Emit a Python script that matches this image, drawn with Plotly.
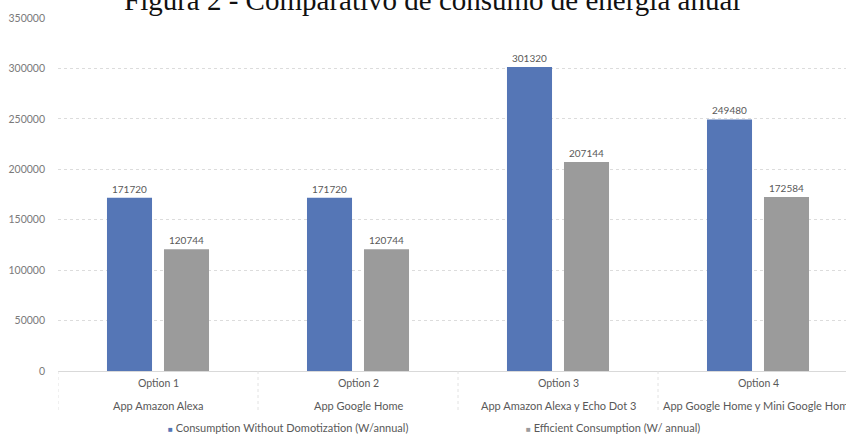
import plotly.graph_objects as go

# Chart data
options = ["Option 1", "Option 2", "Option 3", "Option 4"]
apps = ["App Amazon Alexa", "App Google Home", "App Amazon Alexa y Echo Dot 3",
        "App Google Home y Mini Google Home"]
without_domotization = [171720, 171720, 301320, 249480]
efficient = [120744, 120744, 207144, 172584]
series_names = ["Consumption Without Domotization (W/annual)",
                "Efficient Consumption (W/ annual)"]
y_ticks = [0, 50000, 100000, 150000, 200000, 250000, 300000, 350000]

BLUE = "#5576b6"
GRAY = "#9b9b9b"
FONT = "Lato"
LABEL = "#595959"
colors = [BLUE, GRAY]

fig = go.Figure()
for vals, name, color in zip([without_domotization, efficient], series_names, colors):
    fig.add_trace(go.Bar(
        x=options, y=vals, name=name, showlegend=False,
        marker=dict(color=color, line=dict(width=0)),
        text=[str(v) for v in vals], textposition="outside",
        textfont=dict(family=FONT, size=10, color=LABEL), cliponaxis=False,
    ))

fig.update_layout(
    width=846, height=435,
    margin=dict(l=58, r=0, t=18, b=64, autoexpand=False),
    paper_bgcolor="white", plot_bgcolor="white",
    barmode="group", bargap=0.43, bargroupgap=0.21,
    font=dict(family=FONT, size=9, color=LABEL),
)

# Title, partly above the page edge
fig.add_annotation(
    text="Figura 2 - Comparativo de consumo de energía anual",
    xref="paper", yref="paper", x=0.475, y=1, xanchor="center", yanchor="middle",
    yshift=18, showarrow=False,
    font=dict(family="Liberation Serif", size=29, color="#111111"),
)

# Two-row category labels and the dividers between categories
for i, (opt, app) in enumerate(zip(options, apps)):
    fig.add_annotation(text=opt, xref="x", yref="paper", x=i, y=0,
                       yanchor="middle", yshift=-12, showarrow=False,
                       font=dict(family=FONT, size=10.5, color=LABEL))
    fig.add_annotation(text=app, xref="x", yref="paper", x=i, y=0,
                       yanchor="middle", yshift=-34, showarrow=False,
                       font=dict(family=FONT, size=11, color=LABEL))
for i in range(len(options)):
    fig.add_shape(type="line", xref="x", yref="paper", x0=i - 0.5, x1=i - 0.5,
                  y0=0, y1=-0.115, line=dict(color="#e2e2e2", width=1, dash="dot"))

# Series key along the bottom
legend_x = [0.137, 0.592]
for name, color, lx in zip(series_names, colors, legend_x):
    fig.add_annotation(
        text=f"<span style='color:{color};font-size:8px'>■</span> {name}",
        xref="paper", yref="paper", x=lx, y=0, xanchor="left", yanchor="middle",
        yshift=-56, showarrow=False, font=dict(family=FONT, size=11, color=LABEL),
    )

fig.update_yaxes(
    range=[0, 350000], tickvals=y_ticks, ticktext=[str(v) for v in y_ticks],
    showgrid=True, gridcolor="#dcdcdc", griddash="dot", gridwidth=1,
    zeroline=True, zerolinecolor="#d9d9d9", zerolinewidth=1,
    showline=False, ticklabelstandoff=12,
    tickfont=dict(family=FONT, size=10.5, color="#7a7a7a"),
)
fig.update_xaxes(
    type="category", range=[-0.5, 3.44],
    showgrid=False, showline=False, ticks="", showticklabels=False,
)

fig.write_html("out.html")
